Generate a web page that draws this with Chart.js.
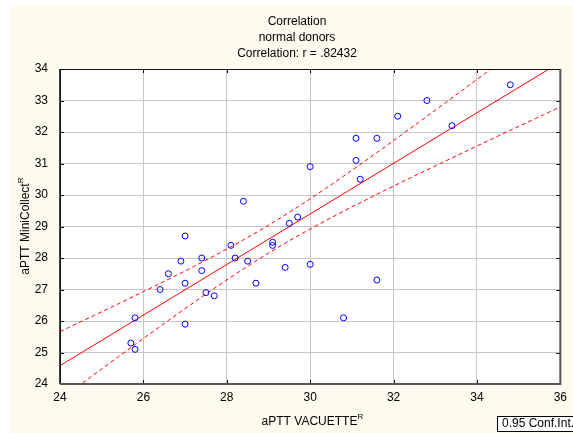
<!DOCTYPE html>
<html>
<head>
<meta charset="utf-8">
<script src="https://cdn.jsdelivr.net/npm/chart.js@4.4.1/dist/chart.umd.min.js"></script>
<style>
  html, body { margin: 0; padding: 0; background: #ffffff; }
  #wrap { width: 573px; height: 433px; }
</style>
</head>
<body>
<div id="wrap"><canvas id="corrChart" width="573" height="433"></canvas></div>
<script>
// values
const vacuette = [25.7, 25.8, 25.8, 26.4, 26.6, 26.9, 27.0, 27.0, 27.0, 27.4, 27.4, 27.5, 27.7, 28.1, 28.2, 28.4, 28.5, 28.7,
  29.1, 29.1, 29.4, 29.5, 29.7, 30.0, 30.0, 30.8, 31.1, 31.1, 31.2, 31.6, 31.6, 32.1, 32.8, 33.4, 34.8];
const miniCollect = [25.3, 25.1, 26.1, 27.0, 27.5, 27.9, 28.7, 27.2, 25.9, 28.0, 27.6, 26.9, 26.8, 28.4, 28.0, 29.8, 27.9, 27.2,
  28.5, 28.4, 27.7, 29.1, 29.3, 30.9, 27.8, 26.1, 31.8, 31.1, 30.5, 31.8, 27.3, 32.5, 33.0, 32.2, 33.5];
const titleLines = ["Correlation", "normal donors", "Correlation: r = .82432"];
const xRange = [24, 36];
const yRange = [24, 34];

// least squares fit + 95% confidence band of the mean
const n = vacuette.length;
const mx = vacuette.reduce((a, b) => a + b, 0) / n;
const my = miniCollect.reduce((a, b) => a + b, 0) / n;
let sxx = 0, sxy = 0;
for (let i = 0; i < n; i++) {
  sxx += (vacuette[i] - mx) ** 2;
  sxy += (vacuette[i] - mx) * (miniCollect[i] - my);
}
const slope = sxy / sxx;
const icept = my - slope * mx;
let sse = 0;
for (let i = 0; i < n; i++) sse += (miniCollect[i] - (icept + slope * vacuette[i])) ** 2;
const se = Math.sqrt(sse / (n - 2));
const tVal = 2.0345; // t(0.975, 33)

const fitLine = xRange.map(x => ({ x: x, y: icept + slope * x }));
const upper = [], lower = [];
for (let x = xRange[0]; x <= xRange[1] + 1e-9; x += 0.2) {
  const yh = icept + slope * x;
  const h = tVal * se * Math.sqrt(1 / n + (x - mx) ** 2 / sxx);
  upper.push({ x: x, y: yh + h });
  lower.push({ x: x, y: yh - h });
}

const FONT = "'Liberation Sans', Arial, sans-serif";

const framePlugin = {
  id: "frame",
  beforeDraw(chart) {
    const ctx = chart.ctx, a = chart.chartArea;
    ctx.save();
    ctx.fillStyle = "#ffffff";
    ctx.fillRect(0, 0, chart.width, chart.height);
    ctx.fillStyle = "#fffaee";
    ctx.fillRect(10, 6, chart.width - 10, chart.height - 6);
    ctx.fillStyle = "#ffffff";
    ctx.fillRect(a.left, a.top, a.right - a.left, a.bottom - a.top);
    ctx.restore();
  },
  afterDraw(chart) {
    const ctx = chart.ctx, a = chart.chartArea;
    const xs = chart.scales.x, ys = chart.scales.y;
    ctx.save();
    // inward ticks on all sides
    ctx.strokeStyle = "#000";
    ctx.lineWidth = 1;
    ctx.beginPath();
    xs.ticks.forEach(t => {
      const px = Math.round(xs.getPixelForValue(t.value)) + 0.5;
      ctx.moveTo(px, a.bottom); ctx.lineTo(px, a.bottom - 4);
      ctx.moveTo(px, a.top); ctx.lineTo(px, a.top + 4);
    });
    ys.ticks.forEach(t => {
      const py = Math.round(ys.getPixelForValue(t.value)) + 0.5;
      ctx.moveTo(a.left, py); ctx.lineTo(a.left + 4, py);
      ctx.moveTo(a.right, py); ctx.lineTo(a.right - 4, py);
    });
    ctx.stroke();
    // frame
    ctx.strokeStyle = "#111";
    ctx.beginPath();
    ctx.moveTo(a.left + 0.5, a.bottom); ctx.lineTo(a.left + 0.5, a.top + 0.5); ctx.lineTo(a.right, a.top + 0.5);
    ctx.stroke();
    ctx.strokeStyle = "#555";
    ctx.lineWidth = 2;
    ctx.beginPath();
    ctx.moveTo(a.left, a.bottom); ctx.lineTo(a.right, a.bottom); ctx.lineTo(a.right, a.top);
    ctx.stroke();
    ctx.lineWidth = 1;
    ctx.strokeStyle = "#444";
    ctx.beginPath();
    ctx.moveTo(a.left - 0.5, a.top); ctx.lineTo(a.left - 0.5, a.bottom);
    ctx.stroke();

    // title
    ctx.fillStyle = "#000";
    ctx.font = "12px " + FONT;
    ctx.textAlign = "center";
    ctx.textBaseline = "middle";
    titleLines.forEach((t, i) => ctx.fillText(t, 297, 22 + i * 16));

    // x axis title with superscript
    const xt = "aPTT VACUETTE";
    const xw = ctx.measureText(xt).width;
    ctx.textAlign = "left";
    ctx.textBaseline = "alphabetic";
    const xStart = 312 - (xw + 5) / 2;
    ctx.fillText(xt, xStart, 425);
    ctx.font = "8px " + FONT;
    ctx.fillText("R", xStart + xw, 419);

    // y axis title, rotated
    ctx.translate(29, 229);
    ctx.rotate(-Math.PI / 2);
    ctx.font = "12px " + FONT;
    const yt = "aPTT MiniCollect";
    const yw = ctx.measureText(yt).width;
    ctx.fillText(yt, -yw / 2, 0);
    ctx.font = "8px " + FONT;
    ctx.fillText("R", yw / 2, -6);
    ctx.setTransform(1, 0, 0, 1, 0, 0);

    // legend box
    ctx.fillStyle = "#ffffff";
    ctx.fillRect(497.5, 416.5, 80, 15);
    ctx.strokeStyle = "#000";
    ctx.strokeRect(497.5, 416.5, 80, 15);
    ctx.fillStyle = "#000";
    ctx.font = "12px " + FONT;
    ctx.textBaseline = "middle";
    ctx.fillText("0.95 Conf.Int.", 502, 424);
    ctx.restore();
  }
};

const ctx = document.getElementById("corrChart").getContext("2d");
new Chart(ctx, {
  type: "scatter",
  data: {
    datasets: [
      {
        label: "points",
        data: vacuette.map((x, i) => ({ x: x, y: miniCollect[i] })),
        pointRadius: 3,
        pointHoverRadius: 3,
        borderColor: "#0000ff",
        backgroundColor: "rgba(0,0,0,0)",
        borderWidth: 1,
        order: 0
      },
      {
        label: "fit",
        data: fitLine,
        showLine: true,
        pointRadius: 0,
        borderColor: "#ff0000",
        borderWidth: 1,
        order: 1
      },
      {
        label: "upper",
        data: upper,
        showLine: true,
        pointRadius: 0,
        borderColor: "#ff0000",
        borderWidth: 1,
        borderDash: [4, 3],
        tension: 0,
        order: 1
      },
      {
        label: "lower",
        data: lower,
        showLine: true,
        pointRadius: 0,
        borderColor: "#ff0000",
        borderWidth: 1,
        borderDash: [4, 3],
        tension: 0,
        order: 1
      }
    ]
  },
  options: {
    responsive: false,
    animation: false,
    layout: { padding: { top: 69, right: 9, left: 0, bottom: 0 } },
    plugins: {
      legend: { display: false },
      tooltip: { enabled: false },
      title: { display: false }
    },
    scales: {
      x: {
        type: "linear",
        min: xRange[0],
        max: xRange[1],
        ticks: { stepSize: 2, color: "#000", font: { family: FONT, size: 12 }, padding: 6 },
        grid: { color: "#c6c6c6", drawTicks: false },
        border: { display: false },
        afterFit(scale) { scale.height = 49; }
      },
      y: {
        type: "linear",
        min: yRange[0],
        max: yRange[1],
        ticks: { stepSize: 1, color: "#000", font: { family: FONT, size: 12 }, padding: 12 },
        grid: { color: "#c6c6c6", drawTicks: false },
        border: { display: false },
        afterFit(scale) { scale.width = 60; }
      }
    }
  },
  plugins: [framePlugin]
});
</script>
</body>
</html>
